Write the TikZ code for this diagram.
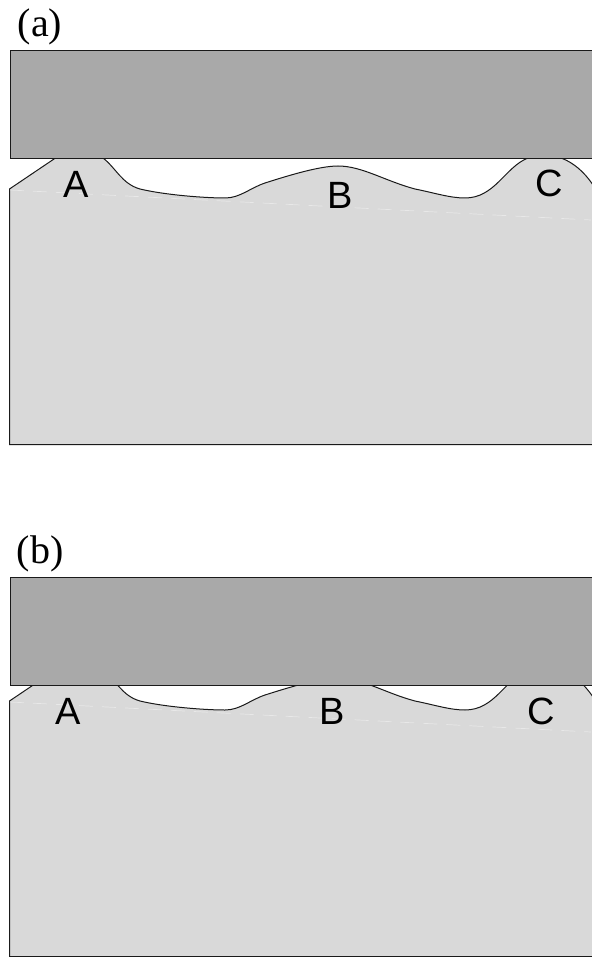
\documentclass[tikz,border=0pt]{standalone}
\usepackage{fontspec}
\setmainfont{Liberation Serif}
\setsansfont{Liberation Sans}
\usetikzlibrary{positioning}
\definecolor{plategrey}{HTML}{A9A9A9}
\definecolor{bodygrey}{HTML}{D9D9D9}
\definecolor{edgedark}{HTML}{1A1A1A}
\tikzset{
  plate/.style={draw=edgedark,fill=plategrey,line width=1pt},
  body/.style={draw=edgedark,fill=bodygrey,line width=1pt},
  seam/.style={white,opacity=0.4,line width=0.7pt,dash pattern=on 14pt off 9pt},
  bump/.style={font=\sffamily\fontsize{38}{38}\selectfont,text=black,inner sep=0pt},
  panel/.style={font=\rmfamily\fontsize{40}{40}\selectfont,text=black,inner sep=0pt},
}
\begin{document}
\begin{tikzpicture}[x=1pt,y=-1pt]
    \useasboundingbox (0,0) rectangle (591,957);
    \foreach \lab/\plateY/\surfY/\ax/\ay/\bx/\by/\cx/\cy in
      {a/50/0/76/184/340/195/549/183,b/577/512/68/711/332/711/541/711}
      {
      \begin{scope}[yshift=-\surfY pt]
        \draw[body] (9.5,444.7) -- (9.5,189) -- (54,159) -- (62,153)
          .. controls (75,147) and (92,149) .. (103,158)
          .. controls (116,168) and (122,184) .. (140,189)
          .. controls (165,195) and (205,198) .. (225,198)
          .. controls (240,198) and (250,188) .. (265,183)
          .. controls (290,175) and (320,166) .. (338,166)
          .. controls (362,166) and (385,181) .. (415,189)
          .. controls (435,193) and (450,198) .. (465,198)
          .. controls (495,198) and (505,167) .. (528,158)
          .. controls (550,150) and (575,158) .. (593,185)
          -- (596,444.7) -- cycle;
        \draw[seam] (10,190) -- (591,220);
      \end{scope}
      \node[plate,minimum width=590pt,minimum height=108pt,inner sep=0pt,anchor=north west] (plate\lab) at (9.5,\plateY) {};
      \node[panel] (label\lab) at (40,\plateY-23) {(\lab)};
      \node[bump] (A\lab) at (\ax,\ay) {A};
      \node[bump] (B\lab) at (\bx,\by) {B};
      \node[bump] (C\lab) at (\cx,\cy) {C};
      }
  \end{tikzpicture}
\end{document}
